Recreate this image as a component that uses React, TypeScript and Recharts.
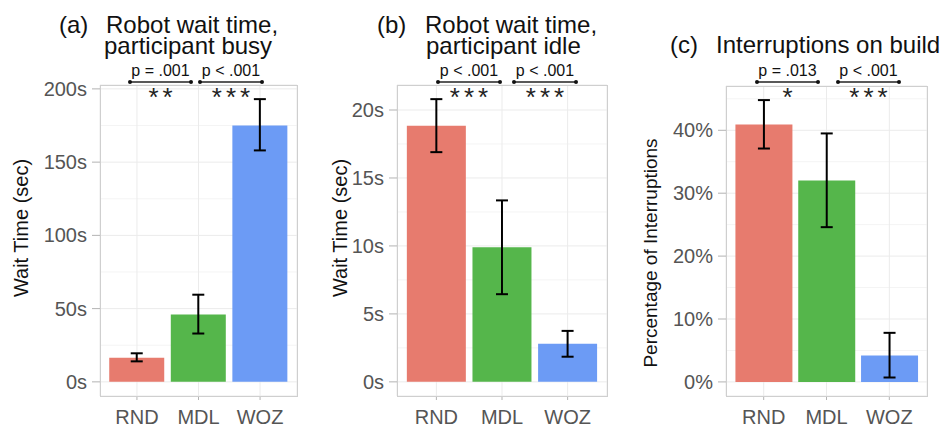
import React from "react";
import {
  Bar,
  BarChart,
  CartesianGrid,
  Cell,
  ErrorBar,
  XAxis,
  YAxis,
} from "recharts";

const categories = ["RND", "MDL", "WOZ"];
const COLORS = ["#E77B6E", "#55B64B", "#6C9BF5"];

// (a) robot wait time, participant busy (sec)
const busyMean = [16.5, 46, 175];
const busyLow = [14, 33, 158];
const busyHigh = [19.5, 59.5, 193];
const busyTicks = [0, 50, 100, 150, 200];
const busyMinor = [25, 75, 125, 175];

// (b) robot wait time, participant idle (sec)
const idleMean = [18.85, 9.9, 2.8];
const idleLow = [16.9, 6.45, 1.85];
const idleHigh = [20.8, 13.35, 3.75];
const idleTicks = [0, 5, 10, 15, 20];
const idleMinor = [2.5, 7.5, 12.5, 17.5];

// (c) interruptions on build (%)
const interMean = [40.9, 32.0, 4.2];
const interLow = [37.1, 24.6, 0.7];
const interHigh = [44.8, 39.5, 7.8];
const interTicks = [0, 10, 20, 30, 40];
const interMinor = [5, 15, 25, 35, 45];

const buildRows = (mean: number[], low: number[], high: number[]) =>
  categories.map((c, i) => ({
    name: c,
    value: mean[i],
    err: [mean[i] - low[i], high[i] - mean[i]],
  }));

interface PanelProps {
  left: number;
  width: number;
  top: number;
  yWidth: number;
  right: number;
  mean: number[];
  low: number[];
  high: number[];
  ticks: number[];
  minor: number[];
  fmt: (v: number) => string;
}

const CHART_H = 431;
const X_H = 35;

function Panel({ left, width, top, yWidth, right, mean, low, high, ticks, minor, fmt }: PanelProps) {
  const data = buildRows(mean, low, high);
  const max = Math.max(...high);
  const plotW = width - yWidth - right;
  const pad = plotW / 32;
  return (
    <div style={{ position: "absolute", left, top: 0 }}>
      <BarChart
        width={width}
        height={CHART_H}
        data={data}
        margin={{ top, right, bottom: 0, left: 0 }}
        barCategoryGap="5%"
      >
        <CartesianGrid stroke="#f4f4f4" vertical={false} horizontalValues={minor} />
        <CartesianGrid stroke="#ebebeb" strokeWidth={1} />
        <XAxis
          dataKey="name"
          height={X_H}
          padding={{ left: pad, right: pad }}
          axisLine={false}
          tickSize={4}
          tickMargin={10}
          tickLine={{ stroke: "#b3b3b3" }}
          tick={{ fill: "#555", fontSize: 20 }}
        />
        <YAxis
          type="number"
          width={yWidth}
          domain={[-0.05 * max, 1.05 * max]}
          allowDataOverflow
          ticks={ticks}
          interval={0}
          tickFormatter={fmt}
          axisLine={false}
          tickSize={8}
          tickMargin={5}
          tickLine={{ stroke: "#b3b3b3" }}
          tick={{ fill: "#555", fontSize: 20 }}
        />
        <Bar dataKey="value" isAnimationActive={false}>
          {data.map((_, i) => (
            <Cell key={i} fill={COLORS[i]} />
          ))}
          <ErrorBar dataKey="err" width={6} strokeWidth={2} stroke="#000" direction="y" />
        </Bar>
      </BarChart>
    </div>
  );
}

interface Sig {
  x1: number;
  x2: number;
  p: string;
  stars: string;
}

const sigs: Sig[] = [
  { x1: 130, x2: 191, p: "p = .001", stars: "**" },
  { x1: 200, x2: 262, p: "p < .001", stars: "***" },
  { x1: 438, x2: 500, p: "p < .001", stars: "***" },
  { x1: 514, x2: 576, p: "p < .001", stars: "***" },
  { x1: 757, x2: 818, p: "p = .013", stars: "*" },
  { x1: 838, x2: 899, p: "p < .001", stars: "***" },
];

const panels = [
  { x: 100, y: 85, w: 197, h: 311 },
  { x: 397, y: 85, w: 210, h: 311 },
  { x: 726, y: 86, w: 201, h: 310 },
];

function Overlay() {
  return (
    <svg
      width={950}
      height={431}
      style={{ position: "absolute", left: 0, top: 0, pointerEvents: "none" }}
    >
      {panels.map((p, i) => (
        <rect key={i} x={p.x + 0.5} y={p.y + 0.5} width={p.w} height={p.h} fill="none" stroke="#cfcfcf" strokeWidth={1} />
      ))}
      <g fill="#111" fontSize={24}>
        <text x={59} y={33}>(a)</text>
        <text>
          <tspan x={106} y={33}>Robot wait time,</tspan>
          <tspan x={104} y={54}>participant busy</tspan>
        </text>
        <text x={377} y={33}>(b)</text>
        <text>
          <tspan x={425} y={33}>Robot wait time,</tspan>
          <tspan x={426} y={54}>participant idle</tspan>
        </text>
        <text x={670} y={53}>(c)</text>
        <text x={716} y={53}>Interruptions on build</text>
      </g>
      <g fill="#111" textAnchor="middle">
        <text fontSize={20} transform="translate(28 228) rotate(-90)">Wait Time (sec)</text>
        <text fontSize={20} transform="translate(347 228) rotate(-90)">Wait Time (sec)</text>
        <text fontSize={19} transform="translate(657 253) rotate(-90)">Percentage of Interruptions</text>
      </g>
      {sigs.map((s, i) => (
        <g key={i}>
          <line x1={s.x1} x2={s.x2} y1={82} y2={82} stroke="#222" strokeWidth={1.5} />
          <circle cx={s.x1} cy={82} r={2} fill="#111" />
          <circle cx={s.x2} cy={82} r={2} fill="#111" />
          <text x={(s.x1 + s.x2) / 2} y={76} textAnchor="middle" fontSize={16} fill="#111">
            {s.p}
          </text>
          <text x={(s.x1 + s.x2) / 2 + 2} y={106} textAnchor="middle" fontSize={26} fill="#222" letterSpacing={4}>
            {s.stars}
          </text>
        </g>
      ))}
    </svg>
  );
}

export default function App() {
  return (
    <div
      style={{
        position: "absolute",
        left: 0,
        top: 0,
        width: 950,
        height: 431,
        background: "#fff",
        fontFamily: "'Liberation Sans', Arial, sans-serif",
        overflow: "hidden",
      }}
    >
      <Panel left={0} width={310} top={85} yWidth={100} right={13}
        mean={busyMean} low={busyLow} high={busyHigh}
        ticks={busyTicks} minor={busyMinor} fmt={(v) => `${v}s`} />
      <Panel left={310} width={310} top={85} yWidth={87} right={13}
        mean={idleMean} low={idleLow} high={idleHigh}
        ticks={idleTicks} minor={idleMinor} fmt={(v) => `${v}s`} />
      <Panel left={620} width={330} top={86} yWidth={106} right={23}
        mean={interMean} low={interLow} high={interHigh}
        ticks={interTicks} minor={interMinor} fmt={(v) => `${v}%`} />
      <Overlay />
    </div>
  );
}
